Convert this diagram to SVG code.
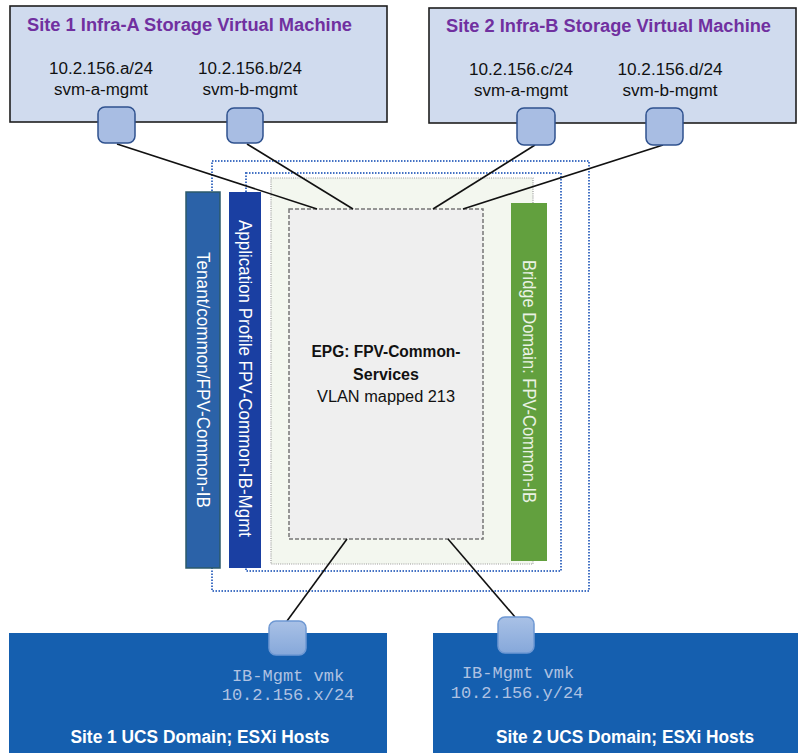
<svg xmlns="http://www.w3.org/2000/svg" width="798" height="753" viewBox="0 0 798 753">
  <defs>
    <linearGradient id="vmkGrad" x1="0" y1="0" x2="0" y2="1">
      <stop offset="0" stop-color="#A9C1E6"/>
      <stop offset="1" stop-color="#86A8DA"/>
    </linearGradient>
    <style>
      .svm { fill: #D0DBEE; stroke: #1E1E1E; stroke-width: 1.6; }
      .svm-title { font-family: "Liberation Sans", Arial, sans-serif; font-weight: bold; font-size: 17.5px; fill: #7030A0; }
      .svm-ip { font-family: "Liberation Sans", Arial, sans-serif; font-size: 16px; fill: #111; text-anchor: middle; }
      .port { fill: #A8BDE3; stroke: #2F528F; stroke-width: 1.5; }
      .vport { fill: url(#vmkGrad); stroke: #6E98D3; stroke-width: 1.5; }
      .ucs { fill: #155FAF; }
      .ucs-title { font-family: "Liberation Sans", Arial, sans-serif; font-weight: bold; font-size: 17.5px; fill: #FFFFFF; text-anchor: middle; }
      .vmk { font-family: "Liberation Mono", "Courier New", monospace; font-size: 17px; fill: #AFC2E2; text-anchor: middle; }
      .scope { fill: none; stroke: #4472C4; stroke-width: 2; stroke-dasharray: 1.5 1.5; }
      .bar-text { font-family: "Liberation Sans", Arial, sans-serif; font-size: 18px; text-anchor: middle; dominant-baseline: central; }
      .epg-text { font-family: "Liberation Sans", Arial, sans-serif; font-size: 16px; fill: #111; text-anchor: middle; }
      .link { stroke: #111; stroke-width: 1.6; fill: none; }
    </style>
  </defs>

  <!-- Storage virtual machines -->
  <g id="svm-site1">
    <rect class="svm" x="10" y="6" width="377" height="116"/>
    <text class="svm-title" x="27" y="31" textLength="325" lengthAdjust="spacingAndGlyphs">Site 1 Infra-A Storage Virtual Machine</text>
    <text class="svm-ip" x="101" y="74" textLength="104" lengthAdjust="spacingAndGlyphs">10.2.156.a/24</text>
    <text class="svm-ip" x="101" y="95" textLength="94" lengthAdjust="spacingAndGlyphs">svm-a-mgmt</text>
    <text class="svm-ip" x="250" y="74" textLength="104" lengthAdjust="spacingAndGlyphs">10.2.156.b/24</text>
    <text class="svm-ip" x="250" y="95" textLength="95" lengthAdjust="spacingAndGlyphs">svm-b-mgmt</text>
  </g>
  <g id="svm-site2">
    <rect class="svm" x="429" y="8" width="367" height="115"/>
    <text class="svm-title" x="446" y="32" textLength="325" lengthAdjust="spacingAndGlyphs">Site 2 Infra-B Storage Virtual Machine</text>
    <text class="svm-ip" x="521" y="75" textLength="104" lengthAdjust="spacingAndGlyphs">10.2.156.c/24</text>
    <text class="svm-ip" x="521" y="96" textLength="94" lengthAdjust="spacingAndGlyphs">svm-a-mgmt</text>
    <text class="svm-ip" x="670" y="75" textLength="105" lengthAdjust="spacingAndGlyphs">10.2.156.d/24</text>
    <text class="svm-ip" x="670" y="96" textLength="95" lengthAdjust="spacingAndGlyphs">svm-b-mgmt</text>
  </g>

  <!-- UCS domains -->
  <g id="ucs-site1">
    <rect class="ucs" x="9" y="633" width="378" height="120"/>
    <text class="vmk" x="288" y="681">IB-Mgmt vmk</text>
    <text class="vmk" x="288" y="700">10.2.156.x/24</text>
    <text class="ucs-title" x="200" y="743" textLength="259" lengthAdjust="spacingAndGlyphs">Site 1 UCS Domain; ESXi Hosts</text>
  </g>
  <g id="ucs-site2">
    <rect class="ucs" x="433" y="633" width="365" height="120"/>
    <text class="vmk" x="518" y="678">IB-Mgmt vmk</text>
    <text class="vmk" x="517" y="698">10.2.156.y/24</text>
    <text class="ucs-title" x="625" y="743" textLength="258" lengthAdjust="spacingAndGlyphs">Site 2 UCS Domain; ESXi Hosts</text>
  </g>

  <!-- ACI scopes: tenant, application profile, bridge domain -->
  <g id="tenant-scope">
    <rect class="scope" x="212" y="161" width="377" height="430"/>
  </g>
  <g id="app-profile-scope">
    <rect class="scope" x="246" y="173" width="315" height="398"/>
  </g>
  <g id="bridge-domain-scope">
    <rect x="271" y="178" width="262" height="386" fill="#F3F7EF" stroke="#9A9A9A" stroke-width="1.2" stroke-dasharray="1 1.2"/>
  </g>

  <g id="tenant">
    <rect x="186" y="192" width="34" height="376" fill="#2B62A8" stroke="#2C5A6A" stroke-width="1.5"/>
    <text class="bar-text" fill="#FFFFFF" transform="translate(203 380) rotate(90)" textLength="256" lengthAdjust="spacingAndGlyphs">Tenant/common/FPV-Common-IB</text>
  </g>
  <g id="application-profile">
    <rect x="229" y="192" width="32" height="376" fill="#1A3FA2"/>
    <text class="bar-text" fill="#FFFFFF" transform="translate(245 378.5) rotate(90)" textLength="317" lengthAdjust="spacingAndGlyphs">Application Profile FPV-Common-IB-Mgmt</text>
  </g>
  <g id="bridge-domain">
    <rect x="511" y="203" width="36" height="358" fill="#62A03E"/>
    <text class="bar-text" fill="#EAF2E4" transform="translate(529 381.5) rotate(90)" textLength="243" lengthAdjust="spacingAndGlyphs">Bridge Domain: FPV-Common-IB</text>
  </g>

  <g id="epg">
    <rect x="289" y="209" width="194" height="330" fill="#EFEFEF" stroke="#777" stroke-width="1.5" stroke-dasharray="4 2"/>
    <text class="epg-text" x="386" y="357" font-weight="bold" textLength="149" lengthAdjust="spacingAndGlyphs">EPG: FPV-Common-</text>
    <text class="epg-text" x="386" y="380" font-weight="bold">Services</text>
    <text class="epg-text" x="386" y="402" textLength="138" lengthAdjust="spacingAndGlyphs">VLAN mapped 213</text>
  </g>

  <!-- Connectors -->
  <g id="connectors">
    <line class="link" x1="117" y1="144" x2="317" y2="209"/>
    <line class="link" x1="247" y1="144" x2="353" y2="209"/>
    <line class="link" x1="535" y1="145" x2="433" y2="209"/>
    <line class="link" x1="663" y1="145" x2="463" y2="209"/>
    <line class="link" x1="347" y1="539" x2="287" y2="621"/>
    <line class="link" x1="448" y1="539" x2="515" y2="617"/>
  </g>

  <!-- Interface ports -->
  <g id="port-svm-a-site1"><rect class="port" x="98" y="107" width="37" height="36" rx="7"/></g>
  <g id="port-svm-b-site1"><rect class="port" x="227" y="108" width="36" height="35" rx="7"/></g>
  <g id="port-svm-a-site2"><rect class="port" x="517" y="108" width="38" height="37" rx="7"/></g>
  <g id="port-svm-b-site2"><rect class="port" x="646" y="108" width="37" height="37" rx="7"/></g>
  <g id="port-vmk-site1"><rect class="vport" x="269" y="621" width="37" height="34" rx="7"/></g>
  <g id="port-vmk-site2"><rect class="vport" x="498" y="617" width="36" height="36" rx="7"/></g>
</svg>
